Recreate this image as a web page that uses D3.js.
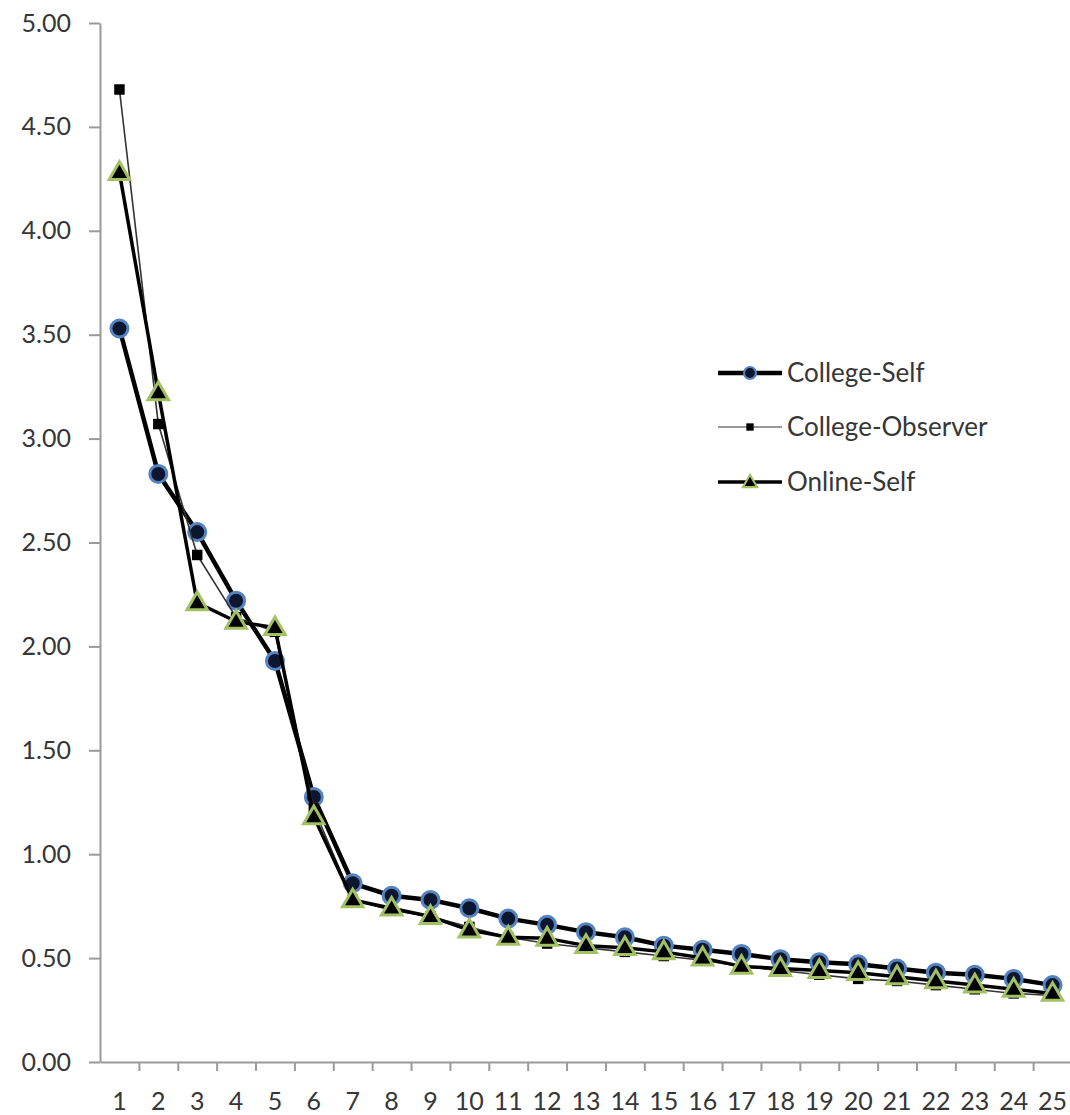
<!DOCTYPE html>
<html>
<head>
<meta charset="utf-8">
<script src="https://cdn.jsdelivr.net/npm/d3@7"></script>
<style>
  body { margin: 0; background: #fff; }
  svg { display: block; }
</style>
</head>
<body>
<svg class="chart" width="1070" height="1115"></svg>
<script>
// Datos
const categories = [1, 2, 3, 4, 5, 6, 7, 8, 9, 10, 11, 12, 13, 14, 15, 16, 17, 18, 19, 20, 21, 22, 23, 24, 25]
const yTicks = [0, 0.5, 1, 1.5, 2, 2.5, 3, 3.5, 4, 4.5, 5]

const collegeSelf = [3.53, 2.83, 2.55, 2.22, 1.93, 1.275, 0.86, 0.80, 0.78, 0.74, 0.69, 0.66, 0.625,
    0.60, 0.56, 0.54, 0.52, 0.495, 0.48, 0.47, 0.45, 0.43, 0.42, 0.40, 0.37]
const collegeObserver = [4.68, 3.07, 2.44, 2.14, 2.07, 1.22, 0.78, 0.73, 0.70, 0.65, 0.60, 0.57, 0.55,
    0.53, 0.51, 0.49, 0.46, 0.44, 0.42, 0.40, 0.39, 0.37, 0.35, 0.33, 0.32]
const onlineSelf = [4.28, 3.22, 2.21, 2.12, 2.09, 1.18, 0.78, 0.74, 0.70, 0.635, 0.60, 0.595, 0.56,
    0.55, 0.53, 0.50, 0.46, 0.45, 0.44, 0.43, 0.41, 0.39, 0.37, 0.35, 0.33]

const seriesNames = ['College-Self', 'College-Observer', 'Online-Self']

const font = 'Lato, "Open Sans", sans-serif'
const axisColor = '#9a9a9a'
const textColor = '#363636'

const svg = d3.select('.chart')

// Escalas
const x = d3.scaleBand()
    .domain(categories)
    .range([100, 1072])

const xEdges = d3.scaleLinear()
    .domain([0, categories.length])
    .range([100, 1072])

const y = d3.scaleLinear()
    .domain([0, 5])
    .range([1062, 23])

// Eje Y
const yAxis = d3.axisLeft(y)
    .tickValues(yTicks)
    .tickFormat(d3.format('.2f'))
    .tickSize(11)
    .tickSizeOuter(0)
    .tickPadding(18)

svg.append('g')
    .attr('class', 'y-axis')
    .attr('transform', 'translate(100,0)')
    .call(yAxis)

// Eje X: marcas entre categorias
const xTickAxis = d3.axisBottom(xEdges)
    .tickValues(d3.range(1, categories.length + 1))
    .tickFormat('')
    .tickSize(9)
    .tickSizeOuter(0)

svg.append('g')
    .attr('class', 'x-axis')
    .attr('transform', 'translate(0,1062)')
    .call(xTickAxis)

// Eje X: etiquetas centradas
const xAxis = d3.axisBottom(x)
    .tickSize(0)
    .tickPadding(30)

svg.append('g')
    .attr('class', 'x-labels')
    .attr('transform', 'translate(0,1062)')
    .call(xAxis)
    .call(g => g.select('.domain').remove())

svg.selectAll('.y-axis path, .y-axis line, .x-axis path, .x-axis line')
    .attr('stroke', axisColor)
    .attr('stroke-width', 2)

svg.selectAll('.y-axis text, .x-labels text')
    .attr('font-family', font)
    .attr('font-size', '25px')
    .attr('fill', textColor)

// Lineas
const line = d3.line()
    .x((d, i) => x(categories[i]) + x.bandwidth() / 2)
    .y(d => y(d))

const lineStyle = {
    'College-Self': { stroke: '#000', width: 4.5 },
    'College-Observer': { stroke: '#333', width: 1.6 },
    'Online-Self': { stroke: '#000', width: 3.5 }
}

const allSeries = [collegeSelf, collegeObserver, onlineSelf]

const triangle = d3.symbol().type(d3.symbolTriangle)
const square = d3.symbol().type(d3.symbolSquare)

function drawMarker(g, name, cx, cy, scale) {
    if (name === 'College-Self') {
        g.append('circle')
            .attr('cx', cx)
            .attr('cy', cy)
            .attr('r', 8.5 * scale)
            .attr('fill', '#0c1630')
            .attr('stroke', '#5583c0')
            .attr('stroke-width', 3 * scale)
    } else if (name === 'College-Observer') {
        g.append('path')
            .attr('d', square.size(110 * scale * scale)())
            .attr('transform', `translate(${cx},${cy})`)
            .attr('fill', '#000')
    } else {
        g.append('path')
            .attr('d', triangle.size(180 * scale * scale)())
            .attr('transform', `translate(${cx},${cy + 1})`)
            .attr('fill', '#000')
            .attr('stroke', '#a3c163')
            .attr('stroke-width', 3 * scale)
            .attr('stroke-linejoin', 'miter')
    }
}

allSeries.forEach((values, s) => {
    const name = seriesNames[s]
    const g = svg.append('g').attr('class', 'serie')
    g.append('path')
        .datum(values)
        .attr('d', line)
        .attr('fill', 'none')
        .attr('stroke', lineStyle[name].stroke)
        .attr('stroke-width', lineStyle[name].width)
        .attr('stroke-linejoin', 'round')
    values.forEach((v, i) => {
        drawMarker(g, name, x(categories[i]) + x.bandwidth() / 2, y(v), 1)
    })
})

// Leyenda
const legend = svg.append('g').attr('class', 'leyenda')
const legendY = [373, 427, 482]

seriesNames.forEach((name, i) => {
    legend.append('line')
        .attr('x1', 718)
        .attr('x2', 782)
        .attr('y1', legendY[i])
        .attr('y2', legendY[i])
        .attr('stroke', name === 'College-Observer' ? '#777' : '#000')
        .attr('stroke-width', lineStyle[name].width)
    drawMarker(legend, name, 750, legendY[i], 0.7)
    legend.append('text')
        .attr('x', 787)
        .attr('y', legendY[i])
        .attr('dy', '0.35em')
        .text(name)
        .attr('font-family', font)
        .attr('font-size', '26px')
        .attr('fill', textColor)
})
</script>
</body>
</html>
